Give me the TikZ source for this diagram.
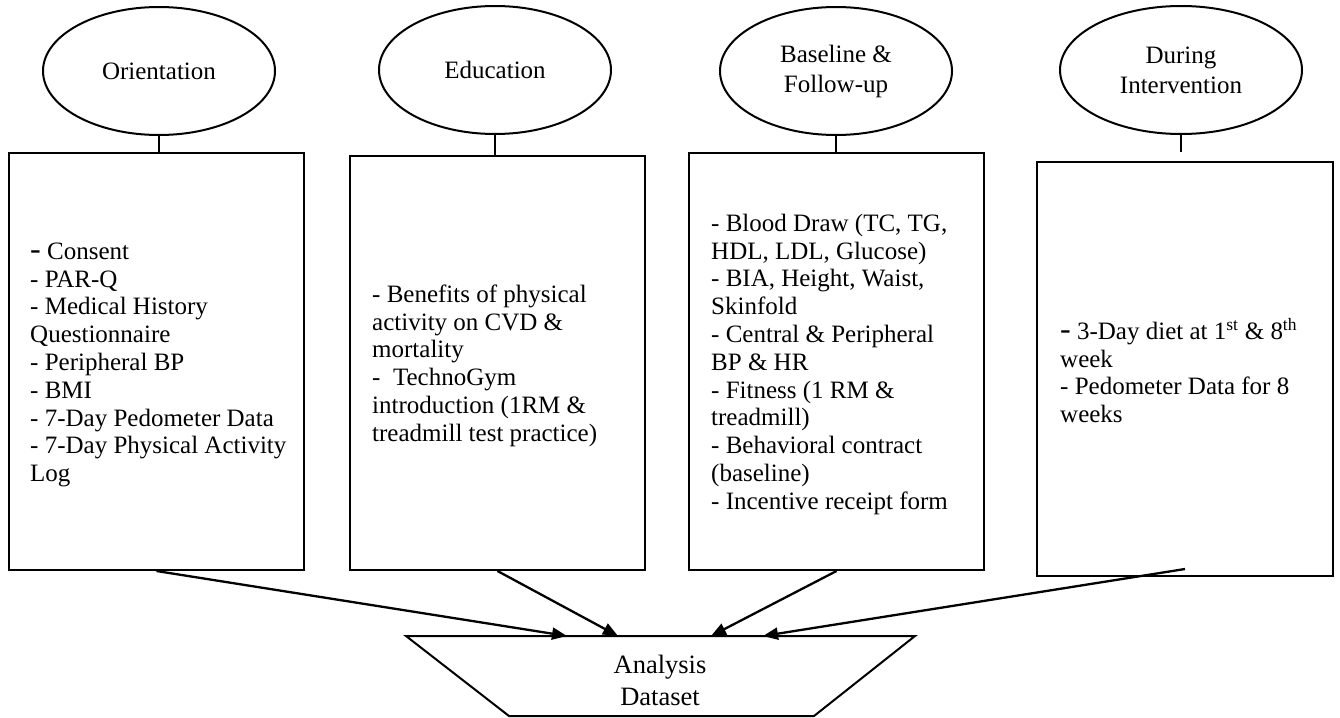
\documentclass[tikz,border=0pt]{standalone}
\usepackage{fontspec}
\setmainfont{Liberation Serif}
\usetikzlibrary{shapes.geometric,arrows.meta}
\newcommand\fstrut{\rule{0pt}{20pt}}
\newcommand\bigdash{{\fontsize{32}{27.8}\selectfont -}}
\begin{document}
\begin{tikzpicture}[x=1pt,y=-1pt,
  lw/.style={line width=2pt},
  phase/.style={draw, ellipse, line width=2pt, minimum width=232pt, minimum height=128pt, inner sep=0pt, align=center, font=\fontsize{25}{30}\selectfont},
  boxx/.style={draw, rectangle, line width=2pt, inner sep=0pt},
  itemtext/.style={anchor=north west, inner sep=0pt, align=left, font=\fontsize{25}{27.8}\selectfont},
  flow/.style={line width=2.3pt, -{Triangle[length=15pt,width=12pt]}},
  conn/.style={line width=2pt}
]
\useasboundingbox (0,0) rectangle (1340,717);
\fill[white] (0,0) rectangle (1340,717);

% phase ellipses
\node[phase] (e1) at (159,71) {Orientation};
\node[phase] (e2) at (495,70) {Education};
\node[phase] (e3) at (836,71) {Baseline \&\\Follow-up};
\node[phase, minimum width=242pt] (e4) at (1181,70) {During\\Intervention};

% boxes
\node[boxx, minimum width=295pt, minimum height=417pt] (b1) at (156.5,361.5) {};
\node[boxx, minimum width=295pt, minimum height=414pt] (b2) at (497.5,363) {};
\node[boxx, minimum width=295pt, minimum height=417pt] (b3) at (836.5,361.5) {};
\node[boxx, minimum width=296pt, minimum height=414pt] (b4) at (1185,369) {};

% connectors ellipse -> box
\draw[conn] (e1.south) -- (e1.south |- b1.north);
\draw[conn] (e2.south) -- (e2.south |- b2.north);
\draw[conn] (e3.south) -- (e3.south |- b3.north);
\draw[conn] (e4.south) -- ([yshift=9pt]e4.south |- b4.north);

% box texts
\node[itemtext] (t1) at (30,239) {\fstrut\bigdash\ Consent\\- PAR-Q\\- Medical History\\Questionnaire\\- Peripheral BP\\- BMI\\- 7-Day Pedometer Data\\- 7-Day Physical Activity\\Log};
\node[itemtext] (t2) at (372,282) {\fstrut- Benefits of physical\\activity on CVD \&\\mortality\\-\ \ TechnoGym\\introduction (1RM \&\\treadmill test practice)};
\node[itemtext] (t3) at (711,211) {\fstrut- Blood Draw (TC, TG,\\HDL, LDL, Glucose)\\- BIA, Height, Waist,\\Skinfold\\- Central \& Peripheral\\BP \& HR\\- Fitness (1 RM \&\\treadmill)\\- Behavioral contract\\(baseline)\\- Incentive receipt form};
\node[itemtext] (t4) at (1060,318) {\fstrut\bigdash\ 3-Day diet at 1\textsuperscript{st} \& 8\textsuperscript{th}\\week\\- Pedometer Data for 8\\weeks};

% analysis dataset trapezoid
\draw[lw] (406,636) -- (915,636) -- (814,716) -- (509,716) -- cycle;
\node[align=center, inner sep=0pt, font=\fontsize{26.5}{32}\selectfont] (ds) at (660,680) {Analysis\\Dataset};
\coordinate (a1) at (567,636);
\coordinate (a2) at (618,636);
\coordinate (a3) at (711,636);
\coordinate (a4) at (763,636);

% arrows
\draw[flow] (b1.south) -- (a1);
\draw[flow] (b2.south) -- (a2);
\draw[flow] (b3.south) -- (a3);
\draw[flow] ([yshift=8pt]b4.south) -- (a4);
\end{tikzpicture}
\end{document}
